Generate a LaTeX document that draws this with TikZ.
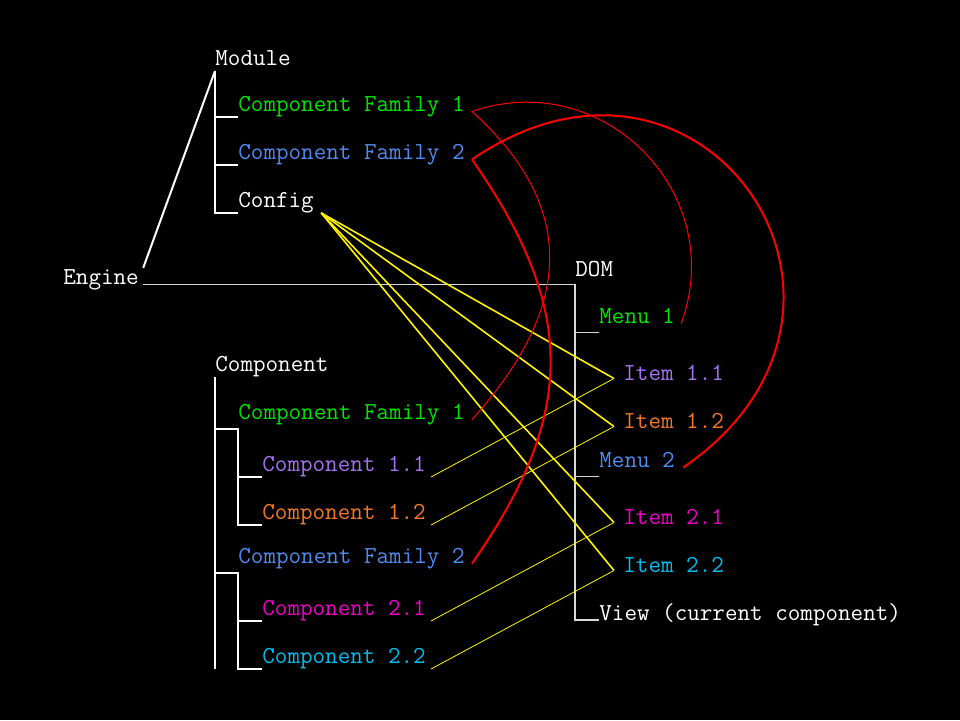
\documentclass[tikz,border=0pt]{standalone}
\usepackage{tikz}
\usepackage{color}
\definecolor{famgreen}{RGB}{0,230,0}
\definecolor{famblue}{RGB}{80,140,240}
\definecolor{comppurple}{RGB}{165,115,240}
\definecolor{comporange}{RGB}{245,120,40}
\definecolor{compmagenta}{RGB}{240,0,200}
\definecolor{compcyan}{RGB}{0,190,240}

\begin{document}
\begin{tikzpicture}[x=0.5pt,y=0.5pt,
    lbl/.style={anchor=base west,inner sep=0pt,text height=8pt,text depth=2.5pt,
      font=\fontsize{12.2pt}{15pt}\ttfamily,text=white},
    tree/.style={draw=white,line width=1pt},
    domline/.style={draw=white!85!black,line width=0.6pt},
    cfglink/.style={draw=yellow,line width=0.8pt},
    itemlink/.style={draw=yellow,line width=0.4pt},
    famthin/.style={draw=red,line width=0.5pt},
    famthick/.style={draw=red,line width=1pt}]
  \fill[black] (0,0) rectangle (960,-720);
  \useasboundingbox (0,0) rectangle (960,-720);

  % module side
  \node[lbl] (module) at (215,-65.5) {Module};
  \node[lbl,text=famgreen] (mcf1) at (238,-111.5) {Component Family 1};
  \node[lbl,text=famblue] (mcf2) at (238,-159.5) {Component Family 2};
  \node[lbl] (config) at (238,-207.5) {Config};
  \node[lbl] (engine) at (63,-284.3) {Engine};

  % dom side
  \node[lbl] (dom) at (575,-276) {DOM};
  \node[lbl,text=famgreen,text depth=4.25pt] (menu1) at (599,-323.5) {Menu 1};
  \node[lbl,text=comppurple] (item11) at (623,-380.5) {Item 1.1};
  \node[lbl,text=comporange] (item12) at (623,-428.5) {Item 1.2};
  \node[lbl,text=famblue,text depth=4.25pt] (menu2) at (599,-467.5) {Menu 2};
  \node[lbl,text=compmagenta] (item21) at (623,-524.5) {Item 2.1};
  \node[lbl,text=compcyan] (item22) at (623,-572.5) {Item 2.2};
  \node[lbl,text depth=0pt] (view) at (599,-620) {View (current component)};

  % component side
  \node[lbl] (component) at (215,-371.5) {Component};
  \node[lbl,text=famgreen] (ccf1) at (238,-419.5) {Component Family 1};
  \node[lbl,text=comppurple] (c11) at (262,-471.5) {Component 1.1};
  \node[lbl,text=comporange] (c12) at (262,-519.5) {Component 1.2};
  \node[lbl,text=famblue] (ccf2) at (238,-563.5) {Component Family 2};
  \node[lbl,text=compmagenta] (c21) at (262,-615.5) {Component 2.1};
  \node[lbl,text=compcyan] (c22) at (262,-663.5) {Component 2.2};

  \coordinate (fork1) at ([yshift=-2.25pt]ccf1.south west);
  \coordinate (fork2) at ([yshift=-2.25pt]ccf2.south west);

  % trees
  \draw[tree] ([xshift=2pt]engine.north east) -- (module.south west);
  \draw[tree] (module.south west) |- (mcf1.south west);
  \draw[tree] (module.south west) |- (mcf2.south west);
  \draw[tree] (module.south west) |- (config.south west);

  \draw[tree] (component.south west) -- (component.south west |- c22.south west);
  \draw[tree] (component.south west |- fork1) -- (fork1) |- (c12.south west);
  \draw[tree] (fork1 |- c11.south west) -- (c11.south west);
  \draw[tree] (component.south west |- fork2) -- (fork2) |- (c22.south west);
  \draw[tree] (fork2 |- c21.south west) -- (c21.south west);

  \draw[domline] ([xshift=2pt]engine.base east) -- (engine.base east -| dom.south west) |- (view.base west);
  \draw[domline] (dom.south west |- menu1.south west) -- (menu1.south west);
  \draw[domline] (dom.south west |- menu2.south west) -- (menu2.south west);

  % config and components to items
  \foreach \i in {item11,item12,item21,item22}
    \draw[cfglink] ([xshift=3.5pt]config.south east) -- ([xshift=-4.5pt,yshift=1pt]\i.base west);
  \foreach \c/\i in {c11/item11,c12/item12,c21/item21,c22/item22}
    \draw[itemlink] ([xshift=2.5pt]\c.south east) -- ([xshift=-4.5pt,yshift=1pt]\i.base west);

  % families
  \draw[famthin] ([xshift=3.5pt]mcf1.base east) to[out=-42,in=48,looseness=1.22] ([xshift=3.5pt]ccf1.base east);
  \draw[famthin] ([xshift=3.5pt]mcf1.base east) to[out=19,in=70,looseness=1.19] ([xshift=3pt]menu1.base east);
  \draw[famthick] ([xshift=3.5pt]mcf2.base east) to[out=-55,in=55,looseness=1.16] ([xshift=3.5pt]ccf2.base east);
  \draw[famthick] ([xshift=3.5pt]mcf2.base east) to[bend left=90,looseness=1.92] ([xshift=4pt]menu2.base east);
\end{tikzpicture}
\end{document}
